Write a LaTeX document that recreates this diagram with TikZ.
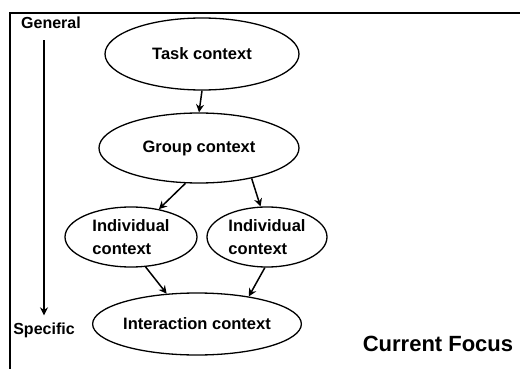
\documentclass[tikz,border=0pt]{standalone}
\usepackage{fontspec}
\setmainfont{Liberation Sans}
\usepackage{tikz}
\usetikzlibrary{shapes.geometric,arrows.meta,positioning}

\begin{document}
\begin{tikzpicture}[x=1pt,y=-1pt,
	ctx/.style={draw,ellipse,line width=1.3pt,inner sep=0pt,
		font=\bfseries\fontsize{16.5}{23}\selectfont},
	lbl/.style={inner sep=0pt,font=\bfseries\fontsize{16}{18}\selectfont},
	link/.style={-{Stealth[length=8pt,width=8pt]},line width=1.5pt}]
\useasboundingbox (0,0) rectangle (520,369);
% frame
\draw[line width=1.8pt] (10,369) -- (10,13) -- (520,13);

\node (task)[ctx,minimum width=194pt,minimum height=72pt] at (202,54) {Task context};
\node (group)[ctx,minimum width=200pt,minimum height=70pt] at (199,148) {Group context};
\node (indl)[ctx,minimum width=132pt,minimum height=60pt,align=left] at (131,237) {Individual\\context};
\node (indr)[ctx,minimum width=120pt,minimum height=60pt,align=left] at (267,237) {Individual\\context};
\node (inter)[ctx,minimum width=180pt,minimum height=62pt] at (197,324) {Interaction context};

\node (general)[lbl] at (51,23) {General};
\node (specific)[lbl] at (44,330) {Specific};
\node (focus)[inner sep=0pt,font=\bfseries\fontsize{22}{26}\selectfont] at (438,344) {Current Focus};

% draw the connections
\draw[link] (task.south) -- (group.north);
\draw[link] (group.249) -- (indl.45);
\draw[link] (group.330) -- (indr.102);
\draw[link] (indl.296) -- (inter.135);
\draw[link] (indr.266) -- (inter.28);
\draw[link,line width=2pt,shorten <=11pt,shorten >=7pt] (general.south -| specific.north) -- (specific.north);
\end{tikzpicture}
\end{document}
